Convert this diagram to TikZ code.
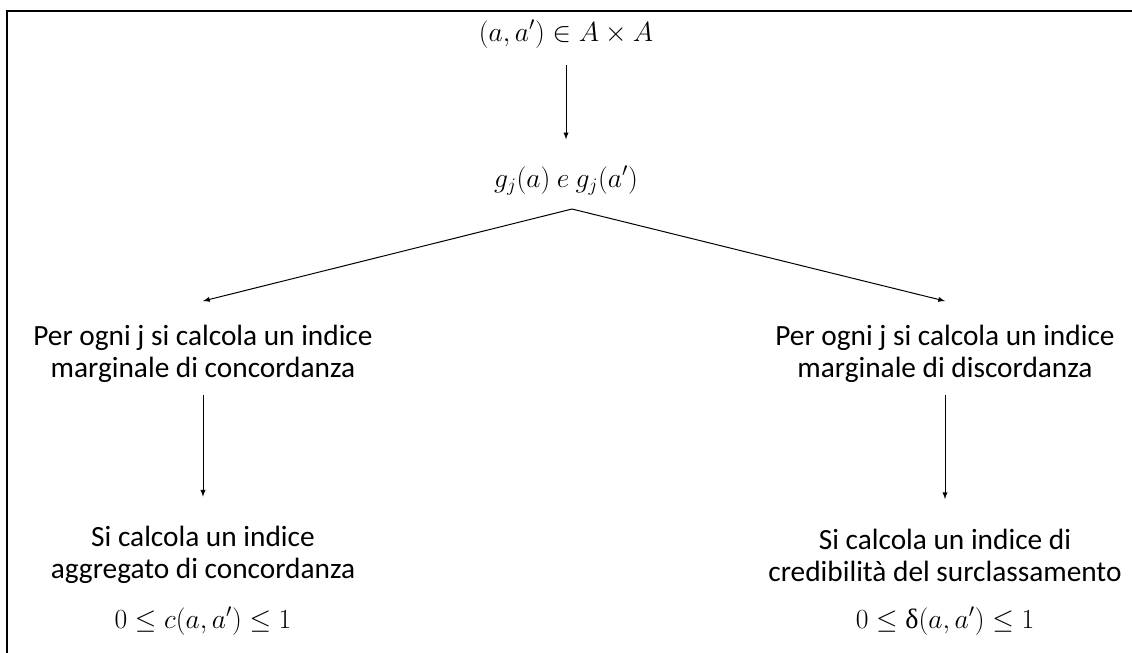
\documentclass[tikz,border=0pt]{standalone}
\usepackage{amsmath, amssymb}
\usepackage{fontspec}
\setmainfont{Carlito}
\newfontfamily\grkfont{Liberation Serif}
\usepackage{tikz}

\begin{document}
\begin{tikzpicture}[x=0.75pt, y=-0.75pt,
    lbl/.style={align=center, inner sep=0pt, font=\fontsize{22}{24}\selectfont},
    mth/.style={inner sep=0pt, anchor=base, font=\fontsize{21}{24}\selectfont},
    arr/.style={->, >=latex, line width=0.75pt}]
    \useasboundingbox (0,0) rectangle (1132,653);
    % Frame (cut at right and bottom)
    \draw[line width=1.5pt] (7,11) rectangle (1145,670);

    % Top of the tree
    \node[mth] (pair) at (566,41) {$(a,a') \in A \times A$};
    \node[mth] (gj) at (566,187) {$g_j(a)\ e\ g_j(a')$};
    \draw[arr] ([yshift=-13pt]pair.south) -- ([yshift=20pt]gj.north);
    \coordinate (fork) at (572,209);

    % Concordance side
    \node[lbl] (conc) at (203,354) {Per ogni j si calcola un indice\\marginale di concordanza};
    \node[lbl] (aggr) at (203,555) {Si calcola un indice\\aggregato di concordanza};
    \node[mth] (cidx) at (203,628) {$0 \le c(a,a') \le 1$};
    \draw[arr] (fork) -- ([yshift=18pt]conc.north);
    \draw[arr] ([yshift=-9pt]conc.south) -- ([yshift=22pt]aggr.north);

    % Discordance side
    \node[lbl] (disc) at (945,354) {Per ogni j si calcola un indice\\marginale di discordanza};
    \node[lbl] (cred) at (945,555) {Si calcola un indice di\\credibilità del surclassamento};
    \node[mth] (didx) at (945,628) {$0 \le \text{\grkfont δ}(a,a') \le 1$};
    \draw[arr] (fork) -- ([yshift=18pt]disc.north);
    \draw[arr] ([yshift=-9pt]disc.south) -- ([yshift=22pt]cred.north);
\end{tikzpicture}
\end{document}
